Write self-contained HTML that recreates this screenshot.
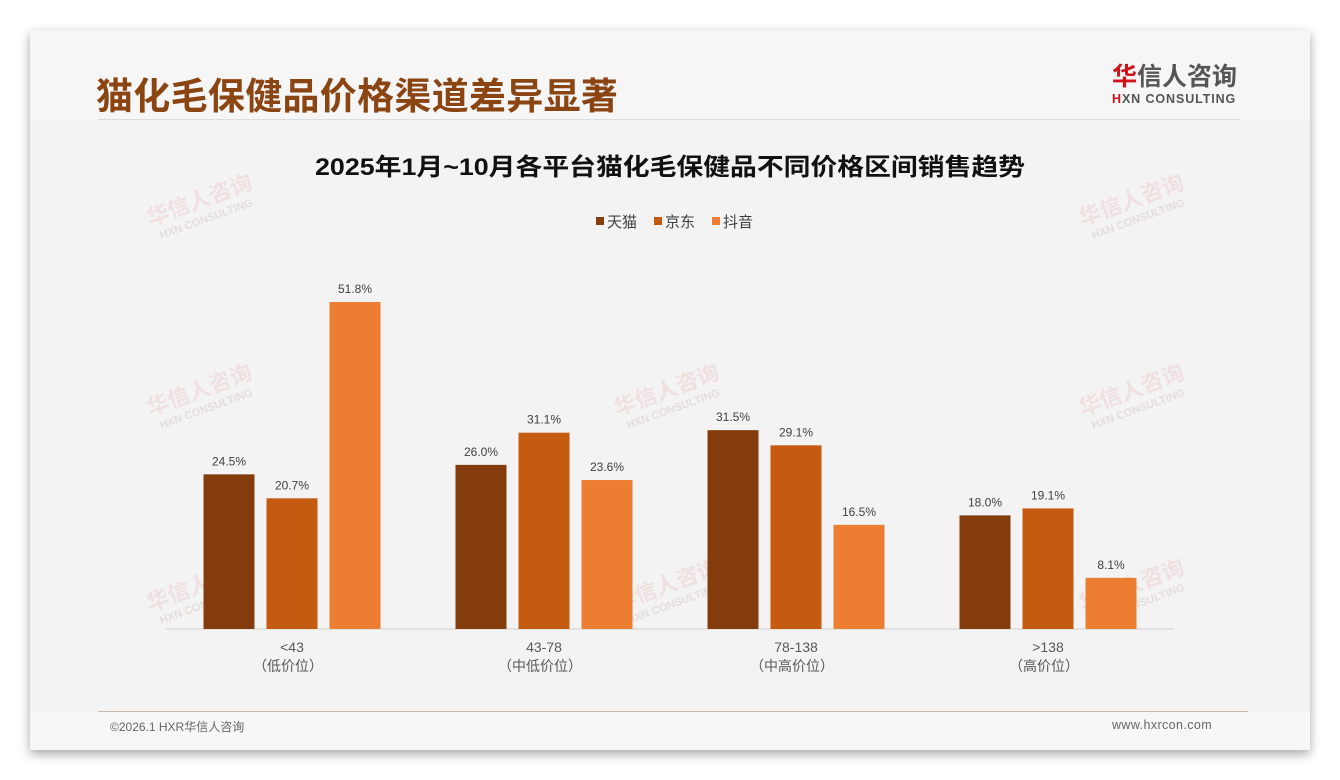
<!DOCTYPE html>
<html><head><meta charset="utf-8"><style>
body{margin:0;width:1340px;height:780px;background:#fff;overflow:hidden;font-family:"Liberation Sans","Noto Sans CJK SC",sans-serif;}
#slide{position:absolute;left:30px;top:30px;width:1280px;height:720px;background:#f3f3f3;box-shadow:0 4px 10px rgba(0,0,0,0.35);}
.wm{position:absolute;transform:rotate(-20deg);color:rgba(230,140,140,0.18);font-size:22px;font-weight:bold;line-height:20px;text-align:center}
.wm small{display:block;font-size:11px;color:rgba(200,170,170,0.3)}
</style></head><body>
<div id="slide">
 <div style="position:absolute;left:0;top:0;width:1280px;height:90px;background:#f6f6f6"></div>
 <div style="position:absolute;left:66px;top:39px;font-size:37px;font-weight:bold;color:#8b4513;letter-spacing:0.3px;font-family:'Noto Sans CJK SC',sans-serif;line-height:48px;white-space:nowrap">猫化毛保健品价格渠道差异显著</div>
 <div style="position:absolute;left:68px;top:89px;width:1142px;height:1px;background:#dcdcdc"></div>
 <div style="position:absolute;left:1082px;top:32px;text-align:left">
  <div style="font-size:25px;color:#555;line-height:30px;font-weight:bold"><span style="color:#d0121b">华</span>信人咨询</div>
  <div style="font-size:12.5px;color:#555;font-weight:bold;line-height:14px;letter-spacing:0.9px"><span style="color:#d0121b">H</span>XN CONSULTING</div>
 </div>
 <div class="wm" style="left:118px;top:160px">华信人咨询<small>HXN CONSULTING</small></div>
 <div class="wm" style="left:1050px;top:160px">华信人咨询<small>HXN CONSULTING</small></div>
 <div class="wm" style="left:118px;top:350px">华信人咨询<small>HXN CONSULTING</small></div>
 <div class="wm" style="left:585px;top:350px">华信人咨询<small>HXN CONSULTING</small></div>
 <div class="wm" style="left:1050px;top:350px">华信人咨询<small>HXN CONSULTING</small></div>
 <div class="wm" style="left:118px;top:545px">华信人咨询<small>HXN CONSULTING</small></div>
 <div class="wm" style="left:585px;top:545px">华信人咨询<small>HXN CONSULTING</small></div>
 <div class="wm" style="left:1050px;top:545px">华信人咨询<small>HXN CONSULTING</small></div>
 <div style="position:absolute;left:68px;top:681px;width:1150px;height:1px;background:#c9b8ab"></div>
 <div style="position:absolute;left:0;top:682px;width:1280px;height:38px;background:#f7f7f7"></div>
 <div style="position:absolute;left:80px;top:688px;font-size:12px;color:#666">©2026.1 HXR华信人咨询</div>
 <div style="position:absolute;left:1082px;top:688px;font-size:12.5px;color:#666;letter-spacing:0.4px">www.hxrcon.com</div>
</div>
<svg id="chart" width="1340" height="780" style="position:absolute;left:0;top:0">
 <text x="315" y="175" textLength="710" lengthAdjust="spacingAndGlyphs" font-size="24" font-weight="bold" fill="#111">2025年1月~10月各平台猫化毛保健品不同价格区间销售趋势</text>
 <g id="legend"></g>
 <line x1="166" y1="629" x2="1174" y2="629" stroke="#d0d0d0"/>
 <g id="bars"></g>
</svg>
<script>
const categories=["<43","43-78","78-138",">138"];
const subLabels=["（低价位）","（中低价位）","（中高价位）","（高价位）"];
const seriesNames=["天猫","京东","抖音"];
const tmall=[24.5,26.0,31.5,18.0];
const jd=[20.7,31.1,29.1,19.1];
const douyin=[51.8,23.6,16.5,8.1];
const colors=["#843c0c","#c55a11","#ed7d31"];
const series=[tmall,jd,douyin];
const NS="http://www.w3.org/2000/svg";
const baseY=629, pxPer=327/51.8;
function yScale(v){return baseY-v*pxPer;}
function xCenter(i){return 292+i*252;}
function mk(tag,attrs,parent){const e=document.createElementNS(NS,tag);for(const k in attrs)e.setAttribute(k,attrs[k]);parent.appendChild(e);return e;}
const g=document.getElementById('bars');
categories.forEach((c,i)=>{
 series.forEach((s,j)=>{
  const x=xCenter(i)+(j-1)*63-25.5;
  const r=mk('rect',{x:x,y:yScale(s[i]),width:51,height:baseY-yScale(s[i]),fill:colors[j]},g);
  
  
  const t=mk('text',{x:x+25.5,y:yScale(s[i])-9,'text-anchor':'middle','font-size':12,fill:'#404040'},g);
  t.textContent=s[i].toFixed(1)+'%';
  
  
 });
 const t1=mk('text',{x:xCenter(i),y:652,'text-anchor':'middle','font-size':14,fill:'#595959'},g);
 t1.textContent=c;
 
 
 const t2=mk('text',{x:xCenter(i)-4,y:671,'text-anchor':'middle','font-size':14,fill:'#595959'},g);
 t2.textContent=subLabels[i];
 
 
});
const lg=document.getElementById('legend');
seriesNames.forEach((n,j)=>{
 const x=596+j*58;
 const r=mk('rect',{x:x,y:217,width:8,height:8,fill:colors[j]},lg);
 
 
 const t=mk('text',{x:x+11,y:227,'font-size':15,fill:'#404040'},lg);
 t.textContent=n;
 
 
});
</script>
</body></html>
